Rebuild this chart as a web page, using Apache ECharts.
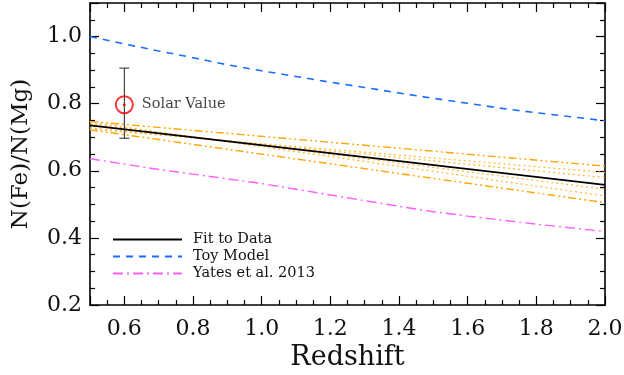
<!DOCTYPE html>
<html>
<head>
<meta charset="utf-8">
<script src="https://cdn.jsdelivr.net/npm/echarts@6/dist/echarts.min.js"></script>
<style>
  html, body { margin: 0; padding: 0; background: #fff; }
  #chart { width: 624px; height: 375px; }
</style>
</head>
<body>
<div id="chart"></div>
<script>
// redshift grid for the model curves
const redshift = [0.5, 0.6, 0.7, 0.8, 0.9, 1.0, 1.1, 1.2, 1.3, 1.4, 1.5, 1.6, 1.7, 1.8, 1.9, 2.0]
const toyModel = [1.000, 0.978, 0.957, 0.937, 0.916, 0.898, 0.881, 0.864, 0.848, 0.832, 0.816, 0.801, 0.786, 0.773, 0.761, 0.749]
const yates2013 = [0.636, 0.620, 0.604, 0.590, 0.576, 0.562, 0.545, 0.528, 0.511, 0.494, 0.478, 0.465, 0.453, 0.441, 0.430, 0.419]

// straight fit and its uncertainty band (end points)
const fitZ = [0.5, 2.0]
const fitLine = [0.735, 0.558]
const bandUpper = [0.747, 0.614]
const bandLower = [0.722, 0.505]
const bandDotted = [
    [0.745, 0.525],
    [0.740, 0.545],
    [0.724, 0.595],
    [0.728, 0.580]
]

// solar value with error bar
const solarZ = 0.6
const solarVal = 0.797
const solarLo = 0.697
const solarHi = 0.906

const legendNames = ['Fit to Data', 'Toy Model', 'Yates et al. 2013']

const FONT = 'DejaVu Serif'
const ORANGE = '#ffa500'

const pairs = (xs, ys) => xs.map((x, i) => [x, ys[i]])

const chart = echarts.init(document.getElementById('chart'))

// fresh axis object each time, ticks drawn inward like the IDL box
const makeAxis = (extra) => Object.assign({
    type: 'value',
    axisLine: { show: true, onZero: false, lineStyle: { color: '#000', width: 1.6 } },
    axisTick: { show: true, inside: true, length: 9, lineStyle: { color: '#000', width: 1.2 } },
    minorTick: { show: true, splitNumber: 4, length: 5, lineStyle: { color: '#000', width: 1.2 } },
    splitLine: { show: false },
    minorSplitLine: { show: false }
}, extra)

const series = []

series.push({
    name: 'Fit to Data',
    type: 'line',
    data: pairs(fitZ, fitLine),
    symbol: 'none',
    lineStyle: { color: '#000', width: 1.8 },
    itemStyle: { color: '#444' },
    z: 5
})
series.push({
    name: 'Toy Model',
    type: 'line',
    data: pairs(redshift, toyModel),
    symbol: 'none',
    lineStyle: { color: '#1a6dff', width: 1.6, type: [7, 6] },
    itemStyle: { color: '#1a6dff' }
})
series.push({
    name: 'Yates et al. 2013',
    type: 'line',
    data: pairs(redshift, yates2013),
    symbol: 'none',
    lineStyle: { color: '#ff5cff', width: 1.4, type: [10, 4, 2, 4] },
    itemStyle: { color: '#ff5cff' }
})

// band edges
;[bandUpper, bandLower].forEach((b, i) => {
    series.push({
        name: 'band' + i,
        type: 'line',
        data: pairs(fitZ, b),
        symbol: 'none',
        silent: true,
        lineStyle: { color: ORANGE, width: 1.4, type: [8, 3, 2, 3, 2, 3] }
    })
})
bandDotted.forEach((b, i) => {
    series.push({
        name: 'dot' + i,
        type: 'line',
        data: pairs(fitZ, b),
        symbol: 'none',
        silent: true,
        lineStyle: { color: '#ffb733', width: 1.2, type: [2, 3] }
    })
})

// error bar
series.push({
    name: 'errbar',
    type: 'custom',
    data: [[solarZ, solarLo, solarHi]],
    renderItem: (params, api) => {
        const lo = api.coord([api.value(0), api.value(1)])
        const hi = api.coord([api.value(0), api.value(2)])
        const w = 5
        const style = { stroke: '#222', lineWidth: 1 }
        return {
            type: 'group',
            children: [
                { type: 'line', shape: { x1: lo[0], y1: lo[1], x2: hi[0], y2: hi[1] }, style },
                { type: 'line', shape: { x1: lo[0] - w, y1: lo[1], x2: lo[0] + w, y2: lo[1] }, style },
                { type: 'line', shape: { x1: hi[0] - w, y1: hi[1], x2: hi[0] + w, y2: hi[1] }, style }
            ]
        }
    },
    z: 6
})

// solar point: circle + centre dot
series.push({
    name: 'solar',
    type: 'scatter',
    data: [[solarZ, solarVal]],
    symbol: 'circle',
    symbolSize: 17,
    itemStyle: { color: 'rgba(0,0,0,0)', borderColor: '#f00000', borderWidth: 2 },
    label: {
        show: true,
        position: 'right',
        distance: 8,
        formatter: 'Solar Value',
        color: '#111',
        fontFamily: FONT,
        fontSize: 14.5
    },
    z: 7
})
series.push({
    name: 'solarDot',
    type: 'scatter',
    data: [[solarZ, solarVal]],
    symbol: 'circle',
    symbolSize: 3,
    itemStyle: { color: '#f00000' },
    z: 8
})

chart.setOption({
    animation: false,
    backgroundColor: '#fff',
    grid: { left: 90, right: 19, top: 3, bottom: 70, outerBoundsMode: 'none' },
    legend: {
        data: legendNames,
        orient: 'vertical',
        left: 107,
        top: 227,
        itemWidth: 69,
        itemHeight: 14,
        itemGap: 2,
        itemStyle: { opacity: 0 },
        textStyle: { fontFamily: FONT, fontSize: 14.5, color: '#111', padding: [0, 0, 0, 6] },
        selectedMode: false
    },
    xAxis: [
        makeAxis({
            position: 'bottom',
            min: 0.5,
            max: 2.0,
            splitNumber: 7,
            name: 'Redshift',
            nameLocation: 'middle',
            nameGap: 35,
            nameTextStyle: { fontFamily: FONT, fontSize: 27, color: '#111' },
            axisLabel: {
                showMinLabel: false,
                margin: 13,
                fontFamily: FONT,
                fontSize: 22,
                color: '#111',
                formatter: v => v.toFixed(1)
            }
        }),
        makeAxis({
            position: 'top',
            min: 0.5,
            max: 2.0,
            splitNumber: 7,
            axisLabel: { show: false }
        })
    ],
    yAxis: [
        makeAxis({
            position: 'left',
            min: 0.2,
            max: 1.1,
            interval: 0.2,
            name: 'N(Fe)/N(Mg)',
            nameLocation: 'middle',
            nameGap: 57,
            nameTextStyle: { fontFamily: FONT, fontSize: 23, color: '#111' },
            axisLabel: {
                showMaxLabel: false,
                margin: 8,
                fontFamily: FONT,
                fontSize: 22,
                color: '#111',
                formatter: v => v.toFixed(1)
            }
        }),
        makeAxis({
            position: 'right',
            min: 0.2,
            max: 1.1,
            interval: 0.2,
            axisLabel: { show: false }
        })
    ],
    series: series
})
</script>
</body>
</html>
